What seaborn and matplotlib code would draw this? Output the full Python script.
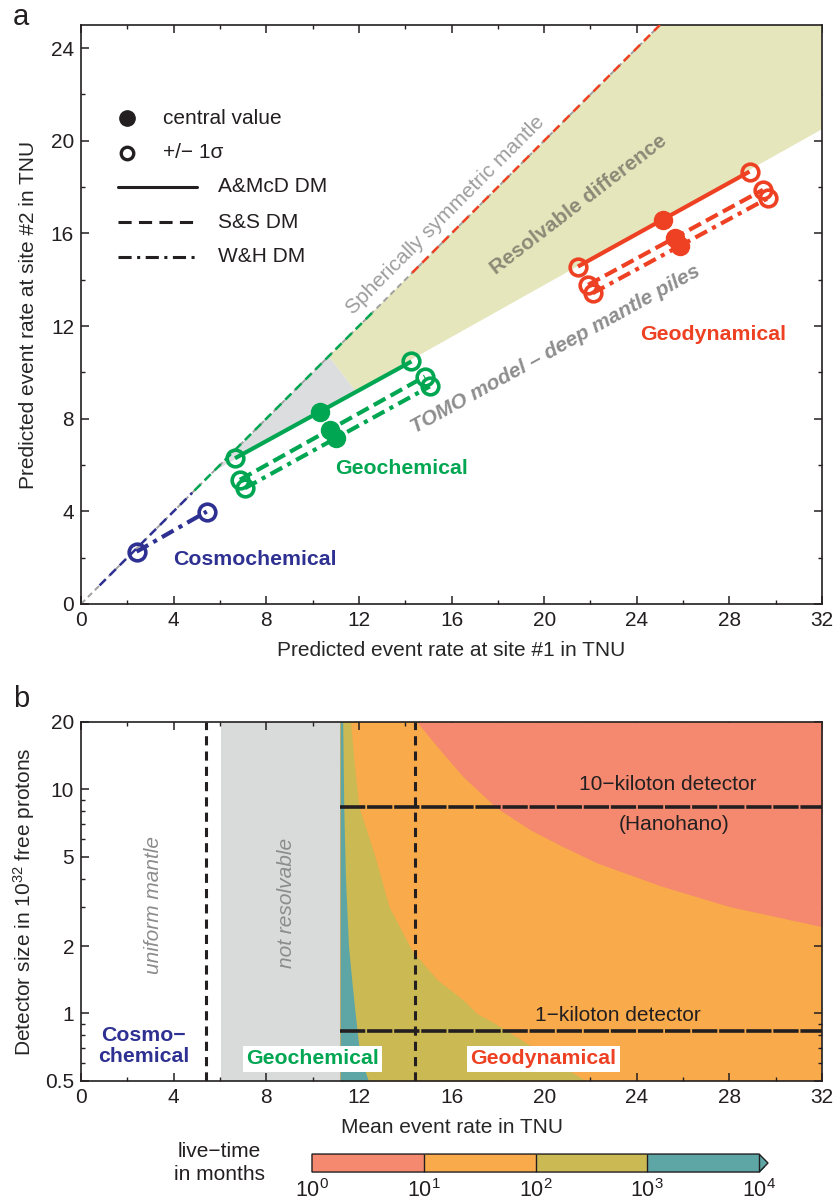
import matplotlib
matplotlib.use('Agg')
import matplotlib.pyplot as plt
import matplotlib as mpl
import seaborn as sns
from matplotlib.colors import ListedColormap, BoundaryNorm
from matplotlib.ticker import MultipleLocator, FixedLocator, FixedFormatter, NullFormatter

# ---- panel a: predicted event rates (TNU), points = [-1 sigma, central, +1 sigma]
geodyn_amcd_x = [21.46, 25.13, 28.87]
geodyn_amcd_y = [14.57, 16.59, 18.67]
geodyn_ss_x = [21.90, 25.65, 29.45]
geodyn_ss_y = [13.78, 15.80, 17.88]
geodyn_wh_x = [22.10, 25.85, 29.66]
geodyn_wh_y = [13.42, 15.45, 17.52]

geochem_amcd_x = [6.65, 10.32, 14.27]
geochem_amcd_y = [6.29, 8.28, 10.47]
geochem_ss_x = [6.86, 10.75, 14.85]
geochem_ss_y = [5.36, 7.52, 9.82]
geochem_wh_x = [7.08, 11.00, 15.06]
geochem_wh_y = [5.00, 7.15, 9.39]

cosmo_wh_x = [2.40, 5.43]
cosmo_wh_y = [2.26, 3.99]

# ranges of the spherically symmetric (y = x) predictions
cosmo_range = [0.8, 4.8]
geochem_range = [4.9, 12.7]
geodyn_range = [14.3, 25.0]
diag_range = [0.0, 25.0]

# shaded regions
unresolved_x = [5.7, 10.7, 11.85]
unresolved_y = [5.7, 10.7, 9.2]
resolvable_x = [10.7, 25.0, 32.0, 32.0, 11.85]
resolvable_y = [10.7, 25.0, 25.0, 20.5, 9.2]

# ---- panel b: live-time boundaries (x = mean rate TNU, s = detector size)
t10_x = [14.5, 15.5, 16.5, 17.9, 19.4, 20.8, 22.3, 25.1, 28.0, 32.0]
t10_s = [20.0, 15.0, 11.4, 8.34, 6.6, 5.56, 4.69, 3.69, 3.0, 2.44]
t100_x = [11.64, 11.8, 12.0, 12.7, 13.3, 14.3, 15.4, 16.5, 17.1, 17.9, 19.7, 21.8]
t100_s = [20.0, 13.0, 8.4, 5.0, 3.0, 1.9, 1.41, 1.15, 1.0, 0.9, 0.69, 0.5]
t1000_x = [11.30, 11.35, 11.42, 11.55, 11.69, 11.84, 12.0, 12.2, 12.41]
t1000_s = [20.0, 8.0, 4.0, 2.0, 1.41, 1.0, 0.71, 0.58, 0.5]
not_resolvable = [6.06, 11.19]
uniform_limit = 5.38
geodyn_limit = 14.44
detector_sizes = [8.34, 0.834]
detector_start = 11.2

livetime_levels = [1, 10, 100, 1000, 10000]
livetime_labels = [r'$10^{0}$', r'$10^{1}$', r'$10^{2}$', r'$10^{3}$', r'$10^{4}$']

RED = '#EE4123'
GREEN = '#00A651'
BLUE = '#2E3192'
INK = '#231F20'
SALMON = '#F4896F'
ORANGE = '#F9AA4B'
OLIVE = '#CBB953'
TEAL = '#5DA6A5'
LGRAY = '#D9DADA'
KHAKI = '#E5E6BC'

sns.set_theme(style='ticks')
plt.rcParams['font.family'] = ['Liberation Sans', 'DejaVu Sans']
plt.rcParams['mathtext.fontset'] = 'custom'
plt.rcParams['mathtext.rm'] = 'Liberation Sans'
plt.rcParams['mathtext.it'] = 'Liberation Sans:italic'
plt.rcParams['mathtext.bf'] = 'Liberation Sans:bold'
plt.rcParams['axes.edgecolor'] = INK
plt.rcParams['axes.linewidth'] = 1.2
plt.rcParams['text.color'] = INK

FS = 15
FB = 15.3

fig = plt.figure(figsize=(8.38, 12), dpi=100)
ax1 = fig.add_axes([0.0967, 0.4967, 0.8842, 0.4825])
ax2 = fig.add_axes([0.0967, 0.0992, 0.8842, 0.2992])
cax = fig.add_axes([0.3723, 0.0233, 0.5442, 0.015])


def style_axes(ax):
    ax.tick_params(which='both', direction='in', top=True, right=True,
                   color=INK, labelsize=FS, labelcolor=INK)
    ax.tick_params(which='major', length=6, width=1.1, pad=5)
    ax.tick_params(which='minor', length=3, width=1.0)
    for sp in ax.spines.values():
        sp.set_visible(True)
        sp.set_color(INK)
        sp.set_linewidth(1.2)


# ================= panel a =================
ax1.fill(unresolved_x, unresolved_y, color='#DCDDDF', lw=0, zorder=1)
ax1.fill(resolvable_x, resolvable_y, color=KHAKI, lw=0, zorder=1)

ax1.plot(diag_range, diag_range, color='#A0A0A0', lw=1.4, dashes=(3, 2), zorder=2)
ax1.plot(cosmo_range, cosmo_range, color=BLUE, lw=1.8, dashes=(3.5, 2.2), zorder=3)
ax1.plot(geochem_range, geochem_range, color=GREEN, lw=1.8, dashes=(3.5, 2.2), zorder=3)
ax1.plot(geodyn_range, geodyn_range, color=RED, lw=1.8, dashes=(3.5, 2.2), zorder=3)

dash_ss = (3.2, 1.4)
dash_wh = (3.2, 1.4, 1.0, 1.4)
series = [
    (geodyn_amcd_x, geodyn_amcd_y, RED, None),
    (geodyn_ss_x, geodyn_ss_y, RED, dash_ss),
    (geodyn_wh_x, geodyn_wh_y, RED, dash_wh),
    (geochem_amcd_x, geochem_amcd_y, GREEN, None),
    (geochem_ss_x, geochem_ss_y, GREEN, dash_ss),
    (geochem_wh_x, geochem_wh_y, GREEN, dash_wh),
    (cosmo_wh_x, cosmo_wh_y, BLUE, dash_wh),
]
for xs, ys, c, d in series:
    sns.lineplot(x=[xs[0], xs[-1]], y=[ys[0], ys[-1]], ax=ax1,
                 color=c, lw=3.0, zorder=5)
    ln = ax1.lines[-1]
    ln.set_solid_capstyle('butt')
    if d is not None:
        ln.set_dashes(d)
    ax1.plot([xs[0], xs[-1]], [ys[0], ys[-1]], 'o', ms=12, mfc='none',
             mec=c, mew=2.6, zorder=6)
    if len(xs) == 3:
        ax1.plot([xs[1]], [ys[1]], 'o', ms=13, color=c, zorder=7)

ax1.text(15.75, 16.8, 'Spherically symmetric mantle', rotation=45,
         ha='center', va='center', fontsize=FS, color='#9D9D9D', zorder=4)
ax1.text(21.5, 17.25, 'Resolvable difference', rotation=37.5,
         ha='center', va='center', fontsize=FS, fontweight='bold',
         color='#8A8A77', zorder=4)
ax1.text(20.5, 11.0, 'TOMO model \u2013 deep mantle piles', rotation=29,
         ha='center', va='center', fontsize=FS, fontweight='bold',
         fontstyle='italic', color='#8E8E8E', zorder=4)
ax1.text(27.3, 11.65, 'Geodynamical', ha='center', va='center', fontsize=FB,
         fontweight='bold', color=RED)
ax1.text(13.84, 5.86, 'Geochemical', ha='center', va='center', fontsize=FB,
         fontweight='bold', color=GREEN)
ax1.text(7.51, 1.9, 'Cosmochemical', ha='center', va='center', fontsize=FB,
         fontweight='bold', color=BLUE)

# legend drawn by hand
T = ax1.transAxes
ax1.plot([0.0617], [0.839], 'o', color=INK, ms=11, transform=T)
ax1.plot([0.0617], [0.779], 'o', mfc='none', mec=INK, mew=2.4, ms=9, transform=T)
ax1.plot([0.0503, 0.156], [0.721, 0.721], color=INK, lw=2.2, transform=T)
ax1.plot([0.0503, 0.156], [0.659, 0.659], color=INK, lw=2.2, dashes=(4.3, 2.4), transform=T)
ax1.plot([0.0503, 0.156], [0.600, 0.600], color=INK, lw=2.2, dashes=(4.3, 1.8, 1.0, 1.8), transform=T)
ax1.text(0.110, 0.839, 'central value', va='center', fontsize=FS, transform=T)
ax1.text(0.110, 0.779, '+/\u2212 1\u03c3', va='center', fontsize=FS, transform=T)
ax1.text(0.185, 0.721, 'A&McD DM', va='center', fontsize=FS, transform=T)
ax1.text(0.185, 0.659, 'S&S DM', va='center', fontsize=FS, transform=T)
ax1.text(0.185, 0.600, 'W&H DM', va='center', fontsize=FS, transform=T)

ax1.set_xlim(0, 32)
ax1.set_ylim(0, 25)
ax1.xaxis.set_major_locator(MultipleLocator(4))
ax1.xaxis.set_minor_locator(MultipleLocator(2))
ax1.yaxis.set_major_locator(FixedLocator([0, 4, 8, 12, 16, 20, 24]))
ax1.yaxis.set_minor_locator(FixedLocator([2, 6, 10, 14, 18, 22]))
style_axes(ax1)
ax1.set_xlabel('Predicted event rate at site #1 in TNU', fontsize=FS, labelpad=8)
ax1.set_ylabel('Predicted event rate at site #2 in TNU', fontsize=FS, labelpad=9)

# ================= panel b =================
ax2.axvspan(not_resolvable[0], not_resolvable[1], color=LGRAY, lw=0, zorder=0)
ax2.axvspan(not_resolvable[1], 32, color=ORANGE, lw=0, zorder=0)
ax2.fill_betweenx(t10_s, t10_x, 32, color=SALMON, lw=0, zorder=1)
ax2.fill_betweenx(t100_s, not_resolvable[1], t100_x, color=OLIVE, lw=0, zorder=1)
ax2.fill_betweenx(t1000_s, not_resolvable[1], t1000_x, color=TEAL, lw=0, zorder=1)

for xv in [uniform_limit, geodyn_limit]:
    ax2.axvline(xv, color=INK, lw=2.2, dashes=(3, 2), zorder=3)
for sz in detector_sizes:
    ax2.plot([detector_start, 32], [sz, sz], color=INK, lw=2.6,
             dashes=(7, 0.5), zorder=3)

ax2.text(25.35, 9.55, '10\u2212kiloton detector', ha='center', va='bottom',
         fontsize=FS, zorder=4)
ax2.text(25.6, 6.95, '(Hanohano)', ha='center', va='center', fontsize=FS, zorder=4)
ax2.text(23.17, 0.89, '1\u2212kiloton detector', ha='center', va='bottom',
         fontsize=FS, zorder=4)
ax2.text(3.12, 3.05, 'uniform mantle', rotation=90, ha='center', va='center',
         fontsize=FS, fontstyle='italic', color='#8C8C8C')
ax2.text(8.88, 3.1, 'not resolvable', rotation=90, ha='center', va='center',
         fontsize=FS, fontstyle='italic', color='#8C8C8C')
ax2.text(2.69, 0.717, 'Cosmo\u2212\nchemical', ha='center', va='center',
         fontsize=FB, fontweight='bold', color=BLUE, linespacing=1.15)
ax2.text(10.0, 0.627, 'Geochemical', ha='center', va='center', fontsize=FB,
         fontweight='bold', color=GREEN, zorder=5,
         bbox=dict(boxstyle='square,pad=0.15', fc='white', ec='none'))
ax2.text(19.97, 0.627, 'Geodynamical', ha='center', va='center', fontsize=FB,
         fontweight='bold', color=RED, zorder=5,
         bbox=dict(boxstyle='square,pad=0.15', fc='white', ec='none'))

ax2.set_yscale('log')
ax2.set_xlim(0, 32)
ax2.set_ylim(0.5, 20)
ax2.xaxis.set_major_locator(MultipleLocator(4))
ax2.xaxis.set_minor_locator(MultipleLocator(2))
ax2.yaxis.set_major_locator(FixedLocator([0.5, 1, 2, 5, 10, 20]))
ax2.yaxis.set_major_formatter(FixedFormatter(['0.5', '1', '2', '5', '10', '20']))
ax2.yaxis.set_minor_locator(FixedLocator([0.6, 0.7, 0.8, 0.9, 3, 4, 6, 7, 8, 9]))
ax2.yaxis.set_minor_formatter(NullFormatter())
style_axes(ax2)
ax2.set_xlabel('Mean event rate in TNU', fontsize=FS, labelpad=8)
ax2.set_ylabel(r'Detector size in 10$^{32}$ free protons', fontsize=FS, labelpad=6)

# ================= colour bar =================
cmap = ListedColormap([SALMON, ORANGE, OLIVE, TEAL]).with_extremes(over=TEAL)
norm = BoundaryNorm(livetime_levels, cmap.N)
sm = mpl.cm.ScalarMappable(norm=norm, cmap=cmap)
cb = fig.colorbar(sm, cax=cax, orientation='horizontal', extend='max',
                  extendfrac=0.02, drawedges=True, ticks=livetime_levels)
cb.set_ticklabels(livetime_labels)
cb.outline.set_linewidth(1.0)
cb.outline.set_edgecolor(INK)
cb.dividers.set_linewidth(1.0)
cb.dividers.set_color(INK)
cb.ax.tick_params(length=0, labelsize=15.5, pad=5, labelcolor=INK)
cb.ax.minorticks_off()

fig.text(219 / 838, 1 - 1163 / 1200, 'live\u2212time\nin months', ha='center',
         va='center', fontsize=FS, linespacing=1.25)
fig.text(21 / 838, 1 - 17 / 1200, 'a', ha='center', va='center', fontsize=21)
fig.text(21 / 838, 1 - 699 / 1200, 'b', ha='center', va='center', fontsize=21)

fig.savefig('out.png', dpi=100)
